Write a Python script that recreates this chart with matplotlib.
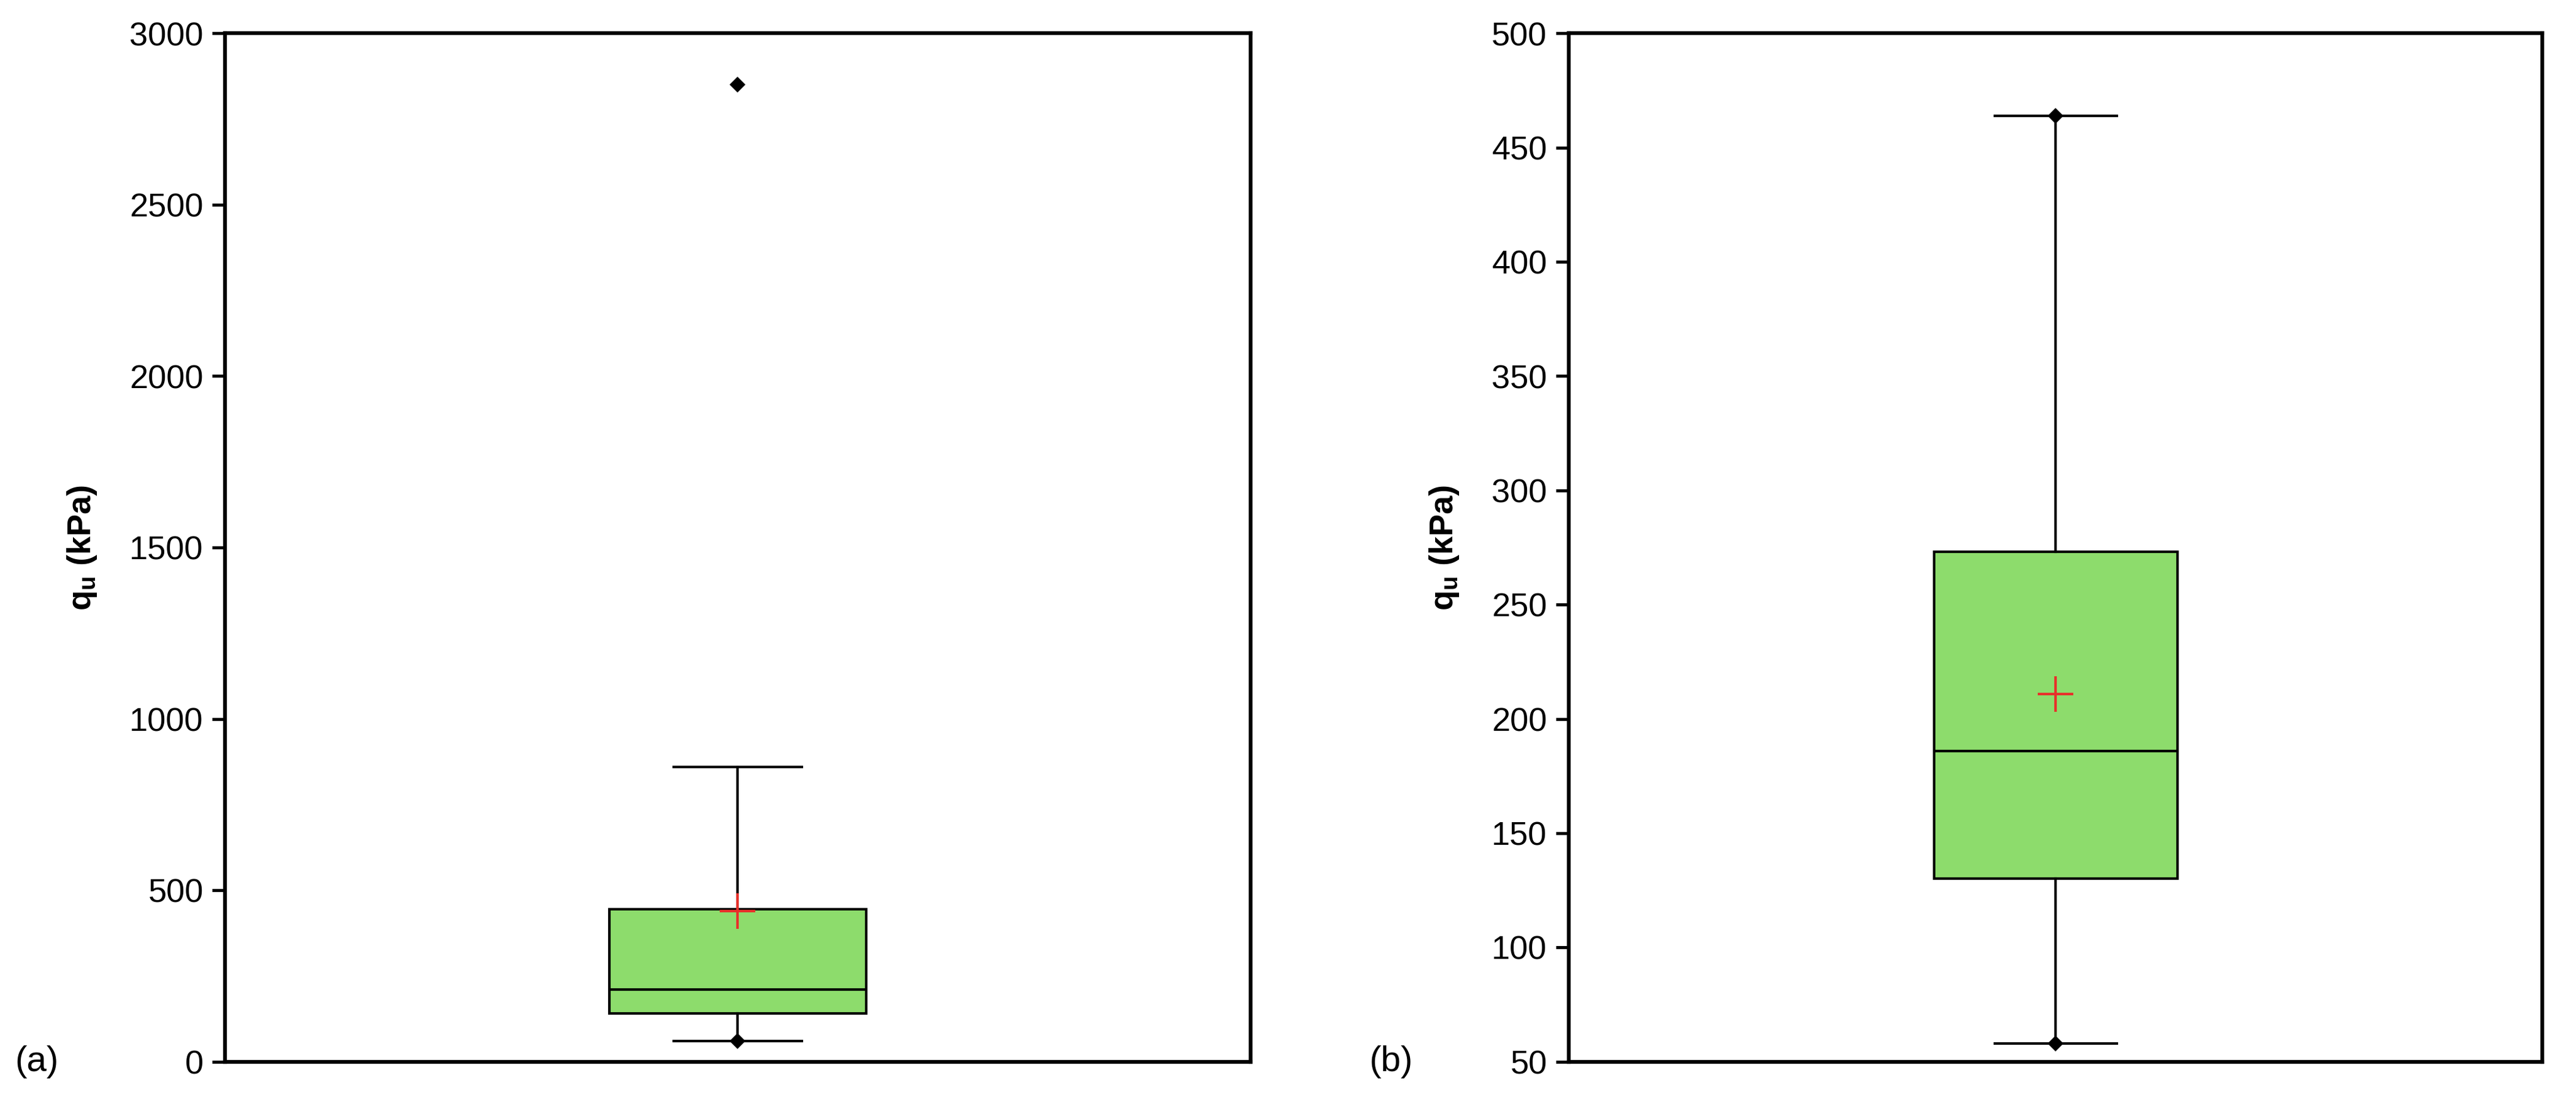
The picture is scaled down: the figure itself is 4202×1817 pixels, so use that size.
import matplotlib.pyplot as plt

plt.rcParams['font.family'] = ['Liberation Sans', 'DejaVu Sans']

# box statistics (kPa)
stats_a = dict(med=210, q1=140, q3=445, whislo=60, whishi=860, mean=440, fliers=[2850])
stats_b = dict(med=186, q1=130, q3=273, whislo=58, whishi=464, mean=211, fliers=[])
ends_a = [60]
ends_b = [58, 464]

ylim_a = (0, 3000)
ylim_b = (50, 500)
ticks_a = list(range(0, 3001, 500))
ticks_b = list(range(50, 501, 50))

fig = plt.figure(figsize=(14.007, 6.057), dpi=300)
ax_a = fig.add_axes([0.0874, 0.047, 0.398, 0.923])
ax_b = fig.add_axes([0.609, 0.047, 0.378, 0.923])

for ax, st, ends, ylim, ticks, tag in [
        (ax_a, stats_a, ends_a, ylim_a, ticks_a, '(a)'),
        (ax_b, stats_b, ends_b, ylim_b, ticks_b, '(b)')]:
    ax.bxp([st], positions=[1], widths=0.25, showmeans=True, patch_artist=True,
           showcaps=True,
           boxprops=dict(facecolor='#8ddc6c', edgecolor='black', linewidth=1),
           medianprops=dict(color='black', linewidth=1),
           whiskerprops=dict(color='black', linewidth=1),
           capprops=dict(color='black', linewidth=1),
           meanprops=dict(marker='+', markeredgecolor='#e8302a', markersize=14, markeredgewidth=1),
           flierprops=dict(marker='D', markerfacecolor='black', markeredgecolor='black', markersize=3.5))
    ax.plot([1] * len(ends), ends, 'D', color='black', markersize=3.5)
    ax.set_xlim(0.5, 1.5)
    ax.set_ylim(*ylim)
    ax.set_yticks(ticks)
    ax.set_xticks([])
    ax.tick_params(axis='y', labelsize=13, length=5, width=1.2)
    for s in ax.spines.values():
        s.set_linewidth(1.5)
    ax.set_ylabel(r'q$_\mathregular{u}$ (kPa)', fontsize=13, fontweight='bold', labelpad=12)
    ax.text(-0.205, 0.0, tag, transform=ax.transAxes, fontsize=14, va='center')

plt.savefig('out.png', dpi=300)
